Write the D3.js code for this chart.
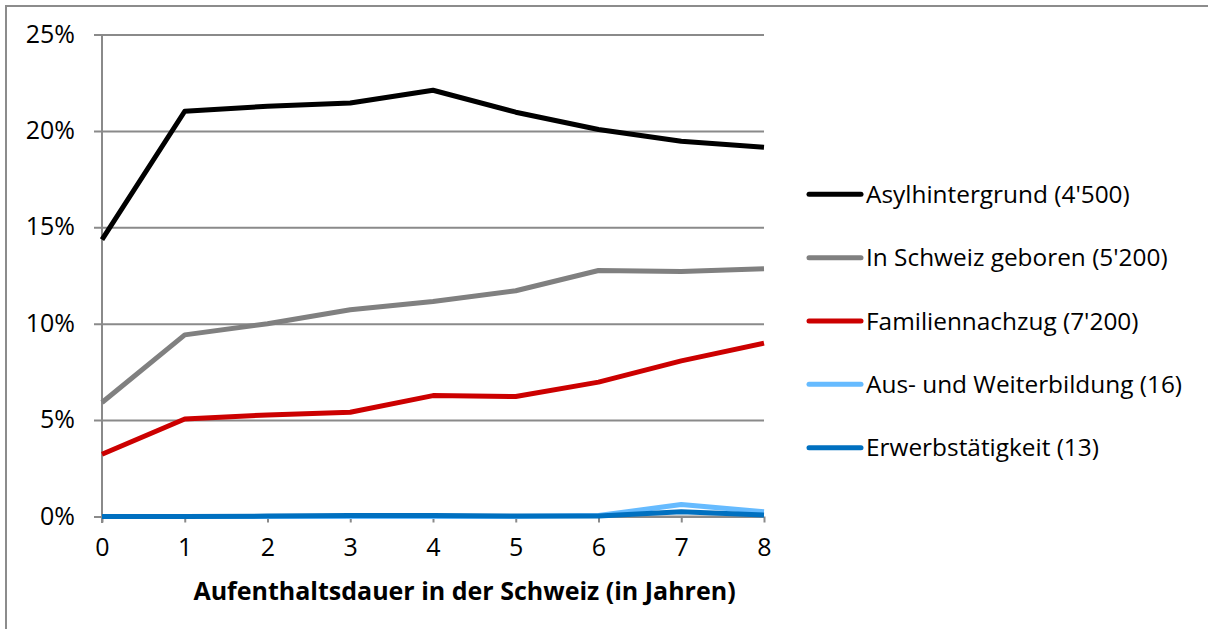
<!DOCTYPE html>
<html>
<head>
<meta charset="utf-8">
<script src="https://cdn.jsdelivr.net/npm/d3@7"></script>
<style>
  html, body { margin: 0; padding: 0; background: #fff; }
  svg { display: block; font-family: "Open Sans", "DejaVu Sans", sans-serif; }
</style>
</head>
<body>
<svg id="chart" width="1208" height="629"></svg>
<script>
const years = [0, 1, 2, 3, 4, 5, 6, 7, 8];
const yTicks = [0, 5, 10, 15, 20, 25];
const seriesNames = [
  "Asylhintergrund (4'500)",
  "In Schweiz geboren (5'200)",
  "Familiennachzug (7'200)",
  "Aus- und Weiterbildung (16)",
  "Erwerbstätigkeit (13)"
];
const seriesColors = ["#000000", "#808080", "#cc0000", "#66bbff", "#0070c0"];
const asyl      = [14.36, 21.02, 21.28, 21.45, 22.11, 20.97, 20.07, 19.46, 19.15];
const geboren   = [5.91, 9.42, 10.0, 10.72, 11.15, 11.71, 12.76, 12.71, 12.85];
const familie   = [3.23, 5.06, 5.27, 5.41, 6.27, 6.22, 6.97, 8.07, 8.99];
const ausbildung = [0, 0, 0, 0, 0, 0, 0.05, 0.62, 0.25];
const erwerb    = [0, 0, 0.02, 0.05, 0.05, 0.02, 0.03, 0.25, 0.08];
const seriesValues = [asyl, geboren, familie, ausbildung, erwerb];
const xTitle = "Aufenthaltsdauer in der Schweiz (in Jahren)";

const svg = d3.select("#chart");
const gridColor = "#8a8a8a";

// outer border (only top and left visible)
svg.append("rect")
  .attr("x", 6).attr("y", 6).attr("width", 1220).attr("height", 640)
  .attr("fill", "none").attr("stroke", "#8c8c8c").attr("stroke-width", 2);

const x = d3.scaleLinear().domain([0, 8]).range([102, 764]);
const y = d3.scaleLinear().domain([0, 25]).range([516.5, 34.5]);

// gridlines with left ticks
const yAxis = d3.axisLeft(y).tickValues(yTicks).tickSize(-(764 - 94)).tickFormat(d => d + "%").tickPadding(19);
const gy = svg.append("g").attr("transform", "translate(94,0)").call(yAxis);
gy.select(".domain").remove();
gy.selectAll(".tick line").attr("stroke", gridColor).attr("stroke-width", 2).attr("x1", 0);
gy.selectAll(".tick text")
  .attr("fill", "#000").attr("font-size", 25).attr("x", -19).attr("dy", "0.3em")
  .style("font-family", "'Open Sans', sans-serif");

// vertical axis line
svg.append("line")
  .attr("x1", 102).attr("x2", 102).attr("y1", y(25)).attr("y2", 523)
  .attr("stroke", gridColor).attr("stroke-width", 2);

// x axis
const xAxis = d3.axisBottom(x).tickValues(years).tickSize(6).tickPadding(16).tickFormat(d3.format("d"));
const gx = svg.append("g").attr("transform", "translate(0," + y(0) + ")").call(xAxis);
gx.select(".domain").attr("stroke", gridColor).attr("stroke-width", 2).attr("d", "M102,0H764");
gx.selectAll(".tick line").attr("stroke", gridColor).attr("stroke-width", 2);
gx.selectAll(".tick text")
  .attr("fill", "#000").attr("font-size", 25)
  .style("font-family", "'Open Sans', sans-serif");

// x title
svg.append("text")
  .attr("x", 464.5).attr("y", 600)
  .attr("text-anchor", "middle")
  .attr("font-size", 25).attr("font-weight", "bold")
  .text(xTitle);

// lines
const line = d3.line().x((d, i) => x(years[i])).y(d => y(d));
seriesValues.forEach((vals, k) => {
  svg.append("path")
    .datum(vals)
    .attr("d", line)
    .attr("fill", "none")
    .attr("stroke", seriesColors[k])
    .attr("stroke-width", 5)
    .attr("stroke-linejoin", "round")
    .attr("stroke-linecap", "butt");
});

// legend
const legendY = d3.scalePoint().domain(seriesNames).range([194.3, 447.7]);
const lg = svg.append("g");
seriesNames.forEach((name, k) => {
  const ly = legendY(name);
  lg.append("line")
    .attr("x1", 809).attr("x2", 861).attr("y1", ly).attr("y2", ly)
    .attr("stroke", seriesColors[k]).attr("stroke-width", 5).attr("stroke-linecap", "round");
  lg.append("text")
    .attr("x", 866).attr("y", ly + 8.5)
    .attr("font-size", 24.4)
    .attr("fill", "#000")
    .text(name);
});
</script>
</body>
</html>
